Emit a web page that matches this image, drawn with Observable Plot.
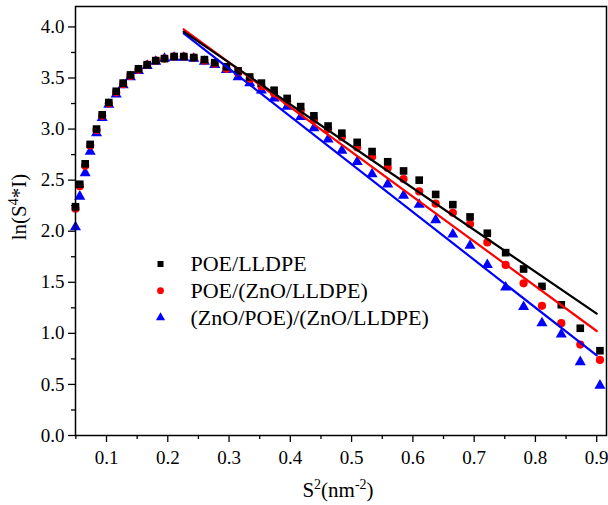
<!DOCTYPE html>
<html>
<head>
<meta charset="utf-8">
<script src="https://cdn.jsdelivr.net/npm/d3@7"></script>
<script src="https://cdn.jsdelivr.net/npm/@observablehq/plot@0.6"></script>
<style>
  html, body { margin: 0; padding: 0; background: #fff; }
  #chart { width: 608px; height: 505px; }
</style>
</head>
<body>
<div id="chart"></div>
<script>
// ---- data ----
const s2 = [0.0494, 0.0564, 0.0652, 0.0734, 0.0837, 0.0930, 0.1037, 0.1158, 0.1272, 0.1391,
            0.1522, 0.1664, 0.1804, 0.1946, 0.2104, 0.2261, 0.2424, 0.2598, 0.2766, 0.2957,
            0.3148, 0.3337, 0.3528, 0.3735, 0.3948, 0.4169, 0.4385, 0.4616, 0.4841, 0.5091,
            0.5334, 0.5589, 0.5848, 0.6103, 0.6372, 0.6652, 0.6933, 0.7215, 0.7514, 0.7807,
            0.8107, 0.8422, 0.8732, 0.9053];
const poeLldpe = [2.24, 2.46, 2.66, 2.85, 3.00, 3.14, 3.26, 3.37, 3.45, 3.53,
                  3.59, 3.63, 3.67, 3.69, 3.71, 3.71, 3.70, 3.68, 3.65, 3.61,
                  3.57, 3.51, 3.45, 3.38, 3.30, 3.22, 3.13, 3.03, 2.96, 2.87,
                  2.78, 2.68, 2.59, 2.50, 2.36, 2.26, 2.14, 1.98, 1.79, 1.63,
                  1.46, 1.28, 1.05, 0.83];
const poeZnoLldpe = [2.22, 2.44, 2.64, 2.84, 2.99, 3.13, 3.25, 3.36, 3.44, 3.52,
                     3.58, 3.63, 3.67, 3.69, 3.71, 3.71, 3.70, 3.67, 3.64, 3.59,
                     3.55, 3.49, 3.42, 3.35, 3.27, 3.18, 3.09, 3.00, 2.92, 2.82,
                     2.73, 2.62, 2.51, 2.39, 2.27, 2.18, 2.07, 1.89, 1.67, 1.49,
                     1.27, 1.10, 0.89, 0.74];
const znoPoeZnoLldpe = [2.04, 2.34, 2.57, 2.78, 2.96, 3.11, 3.24, 3.34, 3.43, 3.51,
                        3.57, 3.62, 3.66, 3.69, 3.70, 3.70, 3.69, 3.66, 3.63, 3.58,
                        3.51, 3.45, 3.38, 3.30, 3.22, 3.12, 3.01, 2.90, 2.79, 2.68,
                        2.56, 2.46, 2.35, 2.26, 2.11, 1.97, 1.86, 1.67, 1.45, 1.26,
                        1.10, 0.99, 0.72, 0.49];
// linear fits (end points of the fitted lines)
const fitX = [0.226, 0.900];
const fitPoeLldpe = [3.954, 1.193];
const fitPoeZnoLldpe = [3.977, 1.023];
const fitZnoPoeZnoLldpe = [3.938, 0.784];

const seriesNames = ["POE/LLDPE", "POE/(ZnO/LLDPE)", "(ZnO/POE)/(ZnO/LLDPE)"];
const seriesColors = ["#000000", "#ff0000", "#0000ff"];
const seriesSymbols = ["square", "circle", "triangle"];

const xTicks = [0.1, 0.2, 0.3, 0.4, 0.5, 0.6, 0.7, 0.8, 0.9];
const xMinorTicks = [0.05, 0.15, 0.25, 0.35, 0.45, 0.55, 0.65, 0.75, 0.85];
const yTicks = [0.0, 0.5, 1.0, 1.5, 2.0, 2.5, 3.0, 3.5, 4.0];
const yMinorTicks = [0.25, 0.75, 1.25, 1.75, 2.25, 2.75, 3.25, 3.75];

// ---- build tables ----
const seriesValues = [poeLldpe, poeZnoLldpe, znoPoeZnoLldpe];
const fitValues = [fitPoeLldpe, fitPoeZnoLldpe, fitZnoPoeZnoLldpe];
const pts = seriesValues.map(v => s2.map((x, i) => ({x, y: v[i]})));
const fits = fitValues.map(v => fitX.map((x, i) => ({x, y: v[i]})));
const sizes = [4.3, 4.1, 4.1];

const legendRows = [257.5, 284.2, 311];

const marks = [
  Plot.axisX(xTicks, {tickSize: 7, tickPadding: 8, tickFormat: d3.format(".1f"), label: null, strokeWidth: 1.3}),
  Plot.axisX(xMinorTicks, {tickSize: 4, text: null, label: null, strokeWidth: 1.3}),
  Plot.axisY(yTicks, {tickSize: 7, tickPadding: 4, tickFormat: d3.format(".1f"), label: null, strokeWidth: 1.3}),
  Plot.axisY(yMinorTicks, {tickSize: 4, text: null, label: null, strokeWidth: 1.3}),
];
// draw blue, red, then black on top
for (const k of [2, 1, 0]) {
  marks.push(Plot.dot(pts[k], {x: "x", y: "y", symbol: seriesSymbols[k], fill: seriesColors[k], stroke: "none", r: sizes[k]}));
}
for (const k of [2, 1, 0]) {
  marks.push(Plot.line(fits[k], {x: "x", y: "y", stroke: seriesColors[k], strokeWidth: 2.2}));
}
for (let k = 0; k < 3; k++) {
  marks.push(Plot.dot([seriesNames[k]], {frameAnchor: "top-left", dx: 85, dy: legendRows[k], symbol: seriesSymbols[k], fill: seriesColors[k], stroke: "none", r: 3.4}));
  marks.push(Plot.text([seriesNames[k]], {frameAnchor: "top-left", dx: 115, dy: legendRows[k], text: d => d, textAnchor: "start", lineAnchor: "middle", fontSize: 22, fill: "black"}));
}
marks.push(Plot.frame({stroke: "black", strokeWidth: 1.5}));

const chart = Plot.plot({
  width: 608,
  height: 505,
  marginLeft: 75,
  marginRight: 2,
  marginTop: 6,
  marginBottom: 70,
  style: {fontFamily: "'Liberation Serif', 'Times New Roman', serif", fontSize: "19px", color: "black", background: "white"},
  x: {domain: [0.0494, 0.916]},
  y: {domain: [0, 4.2]},
  marks
});

const svg = d3.select(chart);
// x-axis title with superscripts
const xt = svg.append("text")
  .attr("x", 338).attr("y", 497)
  .attr("text-anchor", "middle")
  .attr("font-size", 21)
  .attr("fill", "black");
xt.append("tspan").text("S");
xt.append("tspan").attr("dy", -8).attr("font-size", 14).text("2");
xt.append("tspan").attr("dy", 8).text("(nm");
xt.append("tspan").attr("dy", -8).attr("font-size", 14).text("-2");
xt.append("tspan").attr("dy", 8).text(")");

// y-axis title with superscript
const yt = svg.append("text")
  .attr("transform", "translate(26,207) rotate(-90)")
  .attr("text-anchor", "middle")
  .attr("font-size", 21)
  .attr("fill", "black");
yt.append("tspan").text("ln(S");
yt.append("tspan").attr("dy", -8).attr("font-size", 14).text("4");
yt.append("tspan").attr("dy", 8).text("*I)");

document.getElementById("chart").appendChild(chart);
</script>
</body>
</html>
